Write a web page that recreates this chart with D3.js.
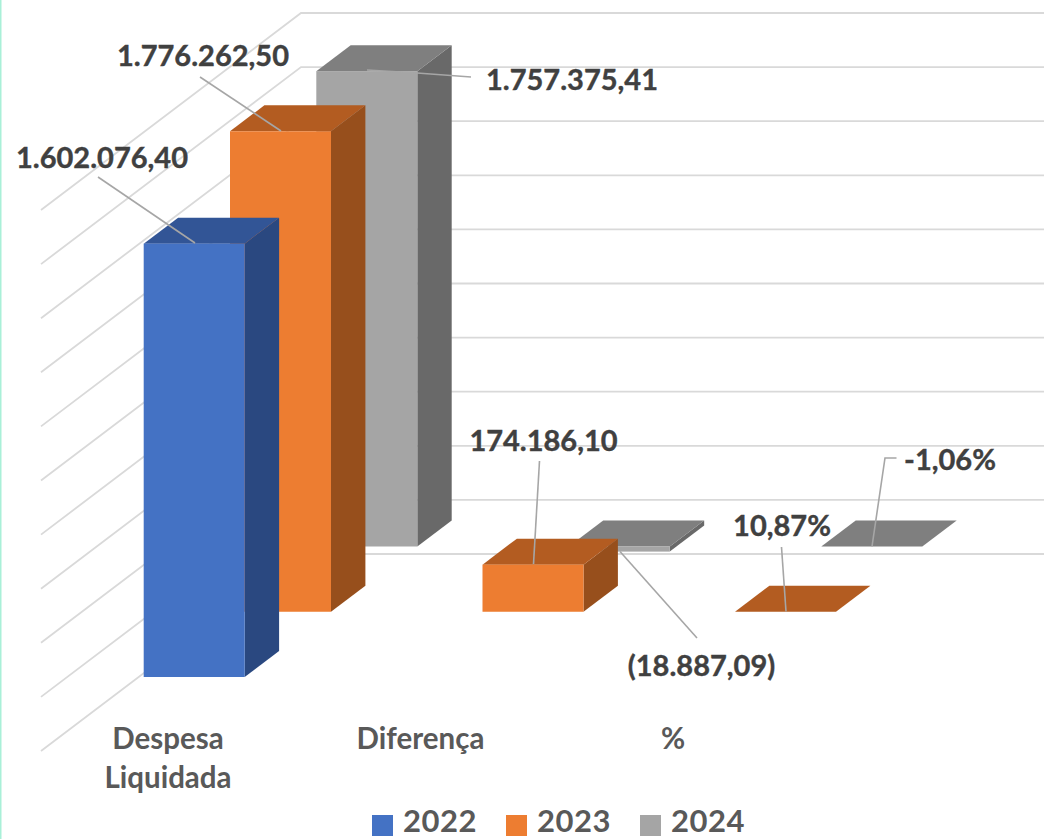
<!DOCTYPE html>
<html>
<head>
<meta charset="utf-8">
<script src="https://cdn.jsdelivr.net/npm/d3@7/dist/d3.min.js"></script>
<style>
  body { margin: 0; background: #fff; }
  text { font-family: Lato, "Open Sans", sans-serif; font-weight: 700; }
</style>
</head>
<body>
<div id="chart"></div>
<script>
const categories = ["Despesa Liquidada", "Diferença", "%"];
const years = ["2022", "2023", "2024"];
// null = nothing drawn for that year/category in the original
const values2022 = [1602076.40, null, null];
const values2023 = [1776262.50, 174186.10, 0.1087];
const values2024 = [1757375.41, -18887.09, -0.0106];
const labels2022 = ["1.602.076,40", null, null];
const labels2023 = ["1.776.262,50", "174.186,10", "10,87%"];
const labels2024 = ["1.757.375,41", "(18.887,09)", "-1,06%"];
const axisTicks = d3.range(0, 2000001, 200000);

const W = 1044, H = 839;
const seriesValues = { 2022: values2022, 2023: values2023, 2024: values2024 };
const front = { 2022: "#4472c4", 2023: "#ed7d31", 2024: "#a5a5a5" };
const topFace = { 2022: "#325596", 2023: "#b35c21", 2024: "#7f7f7f" };
const sideFace = { 2022: "#2a4880", 2023: "#974f1c", 2024: "#696969" };

const barW = 101, depthX = 34.4, depthY = 26;

const xCat = d3.scalePoint().domain(categories).range([230, 735]);
const xYear = d3.scalePoint().domain(years).range([-86.3, 86.3]);
const floorY = d3.scalePoint().domain(years).range([677, 546.5]);
const height = d3.scaleLinear().domain([0, 2000000]).range([0, 541]);

const svg = d3.select("#chart").append("svg").attr("width", W).attr("height", H);

svg.append("rect").attr("x", 0).attr("y", 0).attr("width", 1.5).attr("height", H).attr("fill", "#a9f0d8");

// wall gridlines: side wall going back, then along the back wall
const wallBack = 554, wallX = 301, wallLeft = 41, wallFront = 751;
svg.append("g").selectAll("path").data(axisTicks).enter().append("path")
  .attr("fill", "none").attr("stroke", "#d9d9d9").attr("stroke-width", 1.8)
  .attr("d", (d) => {
    const h = height(d);
    return `M${wallLeft},${wallFront - h}L${wallX},${wallBack - h}L${W},${wallBack - h}`;
  });

// one row per bar, far series first so nearer ones paint over
const bars = [];
years.slice().reverse().forEach((y) => {
  categories.forEach((c, i) => {
    const v = seriesValues[y][i];
    if (v !== null) bars.push({ year: y, cat: c, value: v });
  });
});

const barG = svg.append("g").selectAll("g").data(bars).enter().append("g");

function box(d) {
  const x0 = xCat(d.cat) + xYear(d.year);
  const base = floorY(d.year);
  // negative bars hang below the zero plane
  const yTop = d.value >= 0 ? base - height(d.value) : base;
  const yBot = d.value >= 0 ? base : base - height(d.value);
  return { x0, x1: x0 + barW, yTop, yBot };
}

barG.append("path").attr("fill", (d) => sideFace[d.year]).attr("d", (d) => {
  const b = box(d);
  return `M${b.x1},${b.yTop}L${b.x1 + depthX},${b.yTop - depthY}L${b.x1 + depthX},${b.yBot - depthY}L${b.x1},${b.yBot}Z`;
});
barG.append("path").attr("fill", (d) => topFace[d.year]).attr("d", (d) => {
  const b = box(d);
  return `M${b.x0},${b.yTop}L${b.x1},${b.yTop}L${b.x1 + depthX},${b.yTop - depthY}L${b.x0 + depthX},${b.yTop - depthY}Z`;
});
barG.append("rect").attr("fill", (d) => front[d.year])
  .attr("x", (d) => box(d).x0).attr("y", (d) => box(d).yTop)
  .attr("width", barW).attr("height", (d) => box(d).yBot - box(d).yTop);

// leader lines and value labels were placed by hand in the original
const leaders = [
  [[98, 177], [195, 243]],
  [[200, 77], [281, 131]],
  [[367, 70], [417, 73], [471, 77]],
  [[539.5, 461], [533.5, 564]],
  [[620, 551.5], [697, 638]],
  [[781.5, 547], [786, 611.5]],
  [[896.5, 458], [885, 458], [872, 546.5]],
];
svg.append("g").selectAll("path").data(leaders).enter().append("path")
  .attr("fill", "none").attr("stroke", "#a6a6a6").attr("stroke-width", 1.6)
  .attr("d", d3.line());

const labelSpots = [
  [labels2022[0], 102, 168],
  [labels2023[0], 203, 66],
  [labels2024[0], 572, 90],
  [labels2023[1], 543.5, 451],
  [labels2024[1], 701.5, 676],
  [labels2023[2], 782, 536],
  [labels2024[2], 950, 470],
];
svg.append("g").selectAll("text").data(labelSpots).enter().append("text")
  .attr("x", (d) => d[1]).attr("y", (d) => d[2])
  .attr("text-anchor", "middle").attr("font-size", 29).attr("fill", "#404040")
  .attr("stroke", "#404040").attr("stroke-width", 0.4)
  .text((d) => d[0]);

// category labels
const catCentre = (c) => xCat(c) - 62;
const catG = svg.append("g").selectAll("text").data(categories).enter().append("text")
  .attr("x", (c) => catCentre(c)).attr("y", 749)
  .attr("text-anchor", "middle").attr("font-size", 29.5).attr("fill", "#595959");
catG.each(function(c) {
  const t = d3.select(this);
  c.split(" ").forEach((word, i) => {
    t.append("tspan").attr("x", catCentre(c)).attr("dy", i ? 39 : 0).text(word);
  });
});

// legend
const legendX = d3.scalePoint().domain(years).range([372, 640]);
const leg = svg.append("g").selectAll("g").data(years).enter().append("g")
  .attr("transform", (y) => `translate(${legendX(y)},815)`);
leg.append("rect").attr("width", 21).attr("height", 21).attr("fill", (y) => front[y]);
leg.append("text").attr("x", 31).attr("y", 17).attr("font-size", 31).attr("letter-spacing", 0.5)
  .attr("fill", "#595959").text((y) => y);
</script>
</body>
</html>
